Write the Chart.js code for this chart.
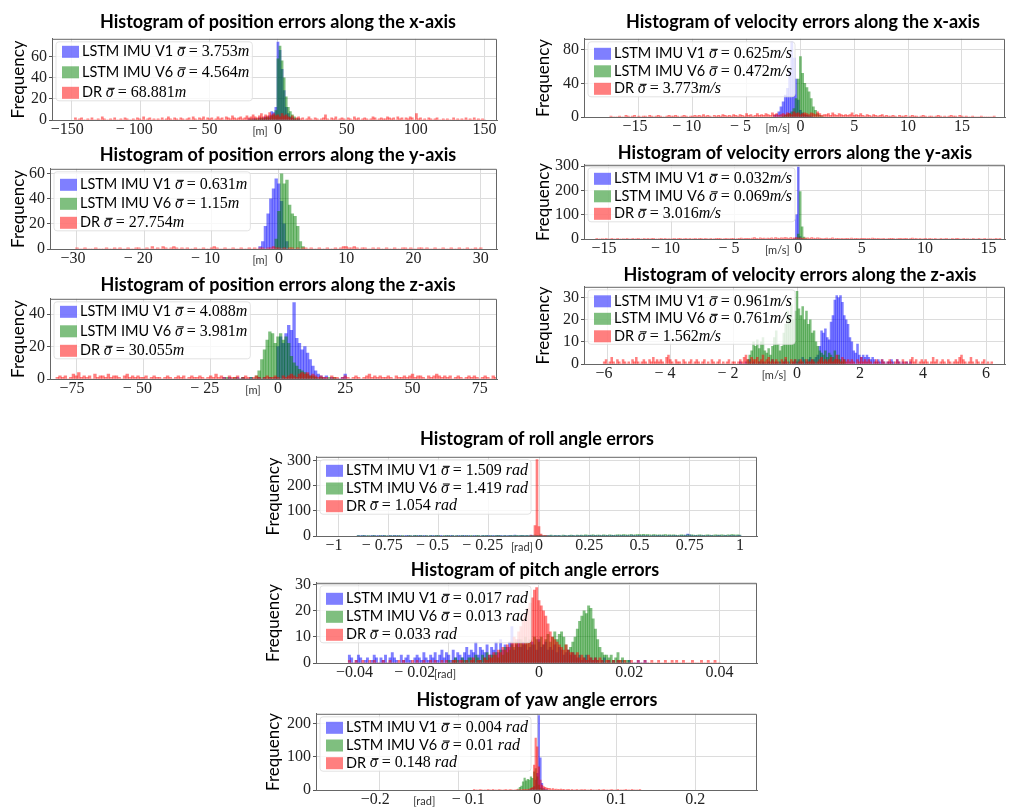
<!DOCTYPE html>
<html>
<head>
<meta charset="utf-8">
<script src="https://cdn.jsdelivr.net/npm/chart.js@4.4.1/dist/chart.umd.min.js"></script>
<style>
  html, body { margin: 0; padding: 0; background: #fff; width: 1010px; height: 809px; overflow: hidden; position: relative; }
  canvas { position: absolute; }
</style>
</head>
<body>
<script>
// shared
var seriesNames = ['LSTM IMU V1', 'LSTM IMU V6', 'DR'];
var seriesColors = ['rgba(0,0,255,0.5)', 'rgba(0,128,0,0.5)', 'rgba(255,0,0,0.5)'];

// position x
var posXBin = 1.5;
var posXTicks = [-150, -100, -50, 0, 50, 100, 150];
var posXTickLabels = ['−150', '− 100', '− 50', '0', '50', '100', '150'];
var posXYTicks = [0, 20, 40, 60];
var posXSigma = ['3.753', '4.564', '68.881'];
var posXV1Start = -21;
var posXV1 = [1,0,1,1,0,2,1,2,3,2,4,8,7,12,74,66,48,28,12,6,3,2,1,0,1];
var posXV6Start = -21;
var posXV6 = [0,1,0,1,1,1,2,1,2,3,2,4,5,9,58,70,56,40,22,12,8,5,3,1,1];
var posXDRStart = -147;
var posXDR = [2,0,1,2,0,0,1,0,2,0, 0,1,0,3,1,0,0,1,0,2, 0,0,1,0,2,1,0,0,1,0, 2,1,0,3,0,1,2,0,1,0,
  1,0,2,0,1,3,1,0,2,1, 0,2,1,0,1,2,0,3,1,0, 2,1,3,0,2,1,2,0,1,3, 1,2,0,3,2,1,4,2,1,2,
  3,1,2,4,2,3,5,3,2,4, 6,3,5,4,7,5,6,4,5,3, 6,4,5,3,2,4,1,2,3,1, 2,0,1,3,1,0,2,1,0,1,
  2,5,1,0,2,1,3,0,1,2, 1,0,2,1,0,3,1,2,0,1, 2,1,0,1,3,2,0,1,2,1, 1,3,2,1,2,0,3,1,2,0,
  2,1,3,2,0,6,1,2,0,1, 0,2,1,0,1,2,0,0,1,0, 1,0,0,2,0,1,0,1,0,2, 0,1,0,2,0,1,0,1,0];

// position y
var posYBin = 0.4;
var posYTicks = [-30, -20, -10, 0, 10, 20, 30];
var posYTickLabels = ['−30', '− 20', '− 10', '0', '10', '20', '30'];
var posYYTicks = [0, 20, 40, 60];
var posYSigma = ['0.631', '1.15', '27.754'];
var posYV1Start = -2.8;
var posYV1 = [2,6,18,28,40,48,56,52,38,20,6];
var posYV6Start = -0.4;
var posYV6 = [8,30,60,52,55,35,28,26,18,6,2];
var posYDRStart = -30;
var posYDR = [1,0,0,1,0,0,0,1,0,0, 0,1,0,0,1,0,1,0,0,1, 0,0,1,1,0,0,1,0,2,0, 1,0,2,1,0,1,2,1,0,1,
  0,1,0,0,1,0,0,1,0,0, 1,2,1,0,0,1,0,0,1,0, 0,1,0,0,1,0,1,0,1,1, 0,1,1,2,1,1,0,1,0,1,
  1,0,1,0,1,1,0,1,0,0, 1,0,0,1,0,0,1,0,1,2, 2,1,1,2,1,0,1,1,0,0, 1,0,1,0,0,1,0,0,1,0,
  0,1,1,0,1,0,0,1,1,0, 1,0,0,1,0,0,1,0,0,1, 0,0,1,0,0,1,0,0,1,0, 1];

// position z
var posZBin = 1;
var posZTicks = [-75, -50, -25, 0, 25, 50, 75];
var posZTickLabels = ['−75', '− 50', '− 25', '0', '25', '50', '75'];
var posZYTicks = [0, 10, 20, 30, 40];
var posZSigma = ['4.088', '3.981', '30.055'];
var posZV1Start = -20;
var posZV1 = [1,0,1,0,0,1,0,1,0,0, 1,0,0,1,0,1,0,1,0,1, 20,26,22,28,33,30,47,25,22,18,
  20,16,12,8,5,3,2,1,2,0, 1,0,0,0,1,3];
var posZV6Start = -20;
var posZV6 = [0,1,0,0,1,0,0,1,0,0, 1,0,2,5,12,18,24,29,28,22, 26,28,24,26,22,14,10,8,6,5,
  4,3,2,2,1,0,1,0,0,1, 0,1,0];
var posZDRStart = -82;
var posZDR = [1,2,1,2,0,1,3,2,4,1, 2,1,2,0,3,1,2,2,1,3, 1,2,2,1,0,2,3,1,2,1, 2,1,1,2,0,1,2,1,1,0,
  1,2,1,0,1,2,1,2,0,1, 2,1,1,2,1,0,1,2,1,3, 1,2,1,0,2,1,1,2,0,1, 2,1,0,1,2,1,0,1,2,1,
  1,2,1,0,2,1,2,3,2,1, 3,4,3,4,2,3,2,1,2,1, 1,0,2,1,1,0,1,2,1,0, 1,2,1,0,1,2,3,1,2,1,
  2,1,1,2,1,0,2,1,1,2, 1,2,3,1,2,2,1,0,2,1, 2,3,2,1,2,1,2,0,1,2, 1,0,1,2,1,2,1,0,1,2,
  1,0,2,1];

// velocity x
var velXBin = 0.2;
var velXTicks = [-15, -10, -5, 0, 5, 10, 15];
var velXTickLabels = ['−15', '− 10', '− 5', '0', '5', '10', '15'];
var velXYTicks = [0, 20, 40, 60, 80];
var velXSigma = ['0.625', '0.472', '3.773'];
var velXV1Start = -2.4;
var velXV1 = [2,3,6,12,18,26,34,55,89,70,45,20,8,5,3,2,1,1];
var velXV6Start = -1.6;
var velXV6 = [1,2,3,4,6,10,22,45,72,52,40,35,30,22,12,8,4,2,1];
var velXDRStart = -17.6;
var velXDR = [1,0,0,0,1,0,0,2,1,0, 1,2,0,1,0,1,1,0,2,1, 0,1,2,1,0,0,1,2,1,1, 2,1,0,1,2,1,0,1,1,2,
  1,2,1,3,1,2,1,0,2,1, 2,1,3,2,1,2,1,3,2,1, 3,2,1,4,2,3,1,2,4,2, 3,2,4,3,2,5,3,4,2,3,
  4,3,5,4,3,6,4,5,3,4, 5,4,3,5,4,3,6,4,2,3, 3,4,2,5,3,2,4,3,2,3, 2,3,5,2,3,2,4,2,1,3,
  2,1,3,2,1,2,3,1,2,1, 1,2,1,0,2,1,1,2,0,1, 2,1,1,0,1,2,1,0,1,1, 0,1,2,1,0,1,0,1,2,1,
  1,0,2,1,0,1,0,0,1,0, 0,0,1,0,0,0,0,0,1];

// velocity y
var velYBin = 0.15;
var velYTicks = [-15, -10, -5, 0, 5, 10, 15];
var velYTickLabels = ['−15', '− 10', '− 5', '0', '5', '10', '15'];
var velYYTicks = [0, 100, 200, 300];
var velYSigma = ['0.032', '0.069', '3.016'];
var velYV1Start = -0.3;
var velYV1 = [3,99,296,10,2];
var velYV6Start = -0.15;
var velYV6 = [4,20,195,50,8,2];
var velYDRStart = -15.9;
var velYDR = [1,0,0,2,0,1,0,0,1,0, 0,1,0,0,2,0,1,0,0,1, 0,2,1,0,0,1,0,3,0,1, 1,0,0,2,1,0,1,0,2,0,
  2,1,0,3,1,0,2,1,0,1, 0,2,1,0,1,3,0,1,2,0, 1,0,2,1,3,1,0,2,1,2, 2,1,3,0,2,1,4,2,1,3,
  3,2,4,6,3,2,5,3,4,2, 4,3,5,2,6,4,3,5,4,6, 5,3,6,4,5,6,4,5,3,4, 4,5,3,6,4,3,5,4,3,2,
  3,4,2,3,5,2,3,1,2,3, 2,3,1,2,4,2,1,3,2,1, 1,3,2,1,2,4,1,2,1,2, 2,1,0,2,1,3,1,0,2,1,
  1,2,1,3,0,1,4,2,1,0, 1,0,2,1,0,1,2,0,1,0, 0,1,0,2,1,0,0,1,0,1, 1,0,0,1,0,2,0,0,1,0,
  0,1,0,0,1,0,0,2,0,0, 1,0,1];

// velocity z
var velZBin = 0.06;
var velZTicks = [-6, -4, -2, 0, 2, 4, 6];
var velZTickLabels = ['−6', '− 4', '− 2', '0', '2', '4', '6'];
var velZYTicks = [0, 10, 20, 30];
var velZSigma = ['0.961', '0.761', '1.562'];
var velZV1Start = -1.8;
var velZV1 = [1,0,0,1,0,2,0,1,0,0, 1,0,1,0,0,1,0,2,0,1, 0,1,0,1,2,0,1,0,1,2, 1,2,1,3,2,1,2,3,2,2,
  3,4,8,15,14,16,12,11,19,22, 29,31,30,31,28,22,20,18,12,10, 6,5,9,4,3,4,3,4,3,2,
  3,2,1,2,1,2,1,0,1,1, 2,1,0,2,1,0,1,0,1,0, 1];
var velZV6Start = -1.56;
var velZV6 = [2,4,6,10,8,11,7,10,12,6, 5,7,4,8,12,15,9,6,8,14, 18,24,22,27,20,24,33,25,22,26,
  20,24,18,20,14,15,10,8,6,5, 4,6,3,5,4,3,6,2,4,2, 1,2];
var velZDRStart = -6.12;
var velZDR = [1,2,0,1,3,1,0,2,1,0, 2,1,0,1,0,2,1,3,1,0, 1,2,1,0,2,1,3,1,2,1, 2,1,0,3,4,2,1,0,2,1,
  1,0,2,1,0,1,2,0,1,2, 1,0,1,2,0,1,0,2,1,0, 1,2,0,1,0,1,2,0,1,1, 0,1,2,1,3,4,2,1,3,2,
  2,3,1,2,4,1,2,3,1,2, 1,2,1,0,2,1,3,1,0,2, 1,2,0,1,2,1,0,2,1,1, 2,1,0,1,2,3,1,2,1,2,
  3,1,2,4,2,1,3,2,1,2, 1,2,1,0,2,1,3,1,2,1, 2,1,0,1,2,1,0,2,1,0, 1,2,1,0,1,2,1,0,2,1,
  1,0,2,3,1,2,0,1,2,1, 2,1,0,1,3,1,2,0,1,2, 1,0,2,1,0,1,2,1,3,4, 2,1,0,1,3,1,0,2,1,0,
  1,2,0,1,0,1];

// roll
var rollBin = 0.01;
var rollTicks = [-1, -0.75, -0.5, -0.25, 0, 0.25, 0.5, 0.75, 1];
var rollTickLabels = ['−1', '− 0.75', '− 0.5', '− 0.25', '0', '0.25', '0.5', '0.75', '1'];
var rollYTicks = [0, 100, 200, 300];
var rollSigma = ['1.509', '1.419', '1.054'];
var rollV1Start = -0.9;
var rollV1 = [3,2,1,3,2,0,2,1,3,2, 1,2,3,1,0,2,1,2,1,3, 2,1,0,2,3,1,2,0,1,2, 1,3,2,1,2,0,1,3,2,1,
  2,1,2,0,1,2,3,1,0,2, 1,2,1,3,2,1,0,2,1,2, 2,0,1,2,1,3,2,1,2,1, 3,1,2,1,2,3,1,2,4,2,
  2,3,1,2,3,2,4,3,2,1, 2,1,2,0,1,2,1,0,1,2, 1,0,2,1,0,1,2,1,0,1, 2,1,0,1,2,1,3,2,1,2,
  1,2,3,2,1,2,1,3,2,1, 2,3,1,2,3,2,4,3,2,3, 3,2,1,2,1,0,2,1,2,1, 1,2,1,0,2,1,2,3,1,2,
  2,3,2,4,8,5,3,2,1,2, 1,2,1,0,1,2,1,0,2,1, 1,0,2,1,0,1,2,1,0,1, 1];
var rollV6Start = -0.9;
var rollV6 = [1,0,2,1,0,1,0,2,1,0, 0,1,0,1,2,0,1,0,1,0, 1,0,1,0,0,2,1,0,1,1, 0,1,2,0,1,0,1,0,2,1,
  1,0,0,1,2,1,0,1,0,1, 0,2,1,0,1,0,1,2,0,1, 1,0,1,2,1,0,1,0,2,1, 1,2,0,1,0,2,1,2,1,3,
  2,1,3,2,1,2,3,2,4,3, 3,4,2,3,2,3,4,2,3,2, 3,2,4,3,2,3,4,3,2,4, 3,4,3,5,4,3,4,5,3,4,
  4,3,5,4,3,5,4,3,4,5, 5,4,6,5,4,5,6,4,5,6, 6,5,7,5,6,5,4,6,5,4, 5,4,5,6,4,5,4,5,4,3,
  4,5,4,3,5,4,5,4,3,4, 5,4,3,4,5,4,3,4,5,4, 4,5,4,3,5,4,6,5,4,5, 4];
var rollDRStart = -0.04;
var rollDR = [1,0,42,305,38,8,2,1,0];

// pitch
var pitchBin = 0.0005;
var pitchTicks = [-0.04, -0.02, 0, 0.02, 0.04];
var pitchTickLabels = ['−0.04', '− 0.02', '0', '0.02', '0.04'];
var pitchYTicks = [0, 10, 20, 30];
var pitchSigma = ['0.017', '0.013', '0.033'];
var pitchV1Start = -0.042;
var pitchV1 = [3,2,0,1,3,2,0,1,2,0, 1,3,2,0,2,1,3,0,2,4, 2,1,0,3,1,2,3,1,0,2, 3,2,1,4,2,1,3,2,4,1,
  3,5,2,4,3,1,5,2,4,3, 2,4,6,3,5,4,8,3,6,5, 4,7,3,6,5,8,4,9,5,7, 6,8,14,5,7,9,6,8,7,5,
  6,8,7,5,9,6,7,8,5,6, 5,7,4,6,5,3,4,5,3,4, 3,2,3,1,2,3,1,2,1,2, 1,0,1,2,0,1,0,1,0,1,
  0,1,0,0,1,0,0,0,1,0, 0,1,0];
var pitchV6Start = -0.02;
var pitchV6 = [1,0,1,2,1,0,2,1,1,2, 2,1,3,2,1,3,2,4,2,3, 3,4,2,5,3,6,4,5,7,6, 8,6,9,7,10,8,9,7,10,9,
  8,10,7,9,11,8,10,12,9,11, 12,10,7,5,6,8,10,13,16,18, 20,19,22,21,17,13,9,6,4,3, 3,2,3,1,2,4,1,2,1,1,
  1];
var pitchDRStart = -0.042;
var pitchDR = [1,0,0,1,0,0,1,0,0,1, 0,1,0,0,0,1,0,0,1,0, 0,0,1,0,1,0,0,0,1,0, 1,0,0,1,0,0,1,0,1,0,
  0,1,0,1,0,0,1,1,0,1, 1,0,1,0,1,2,0,1,1,0, 2,1,3,2,4,3,5,4,6,5, 7,6,8,10,9,12,14,17,19,21,
  23,25,28,29,24,22,20,18,15,12, 10,9,8,7,6,5,7,5,4,4, 3,4,2,3,2,1,3,2,1,2, 1,2,1,0,1,1,0,1,0,1,
  1,0,1,0,0,1,0,0,1,0, 0,1,0,0,1,0,0,1,0,0, 1,0,0,1,0,1,0,0,1,0, 0,0,1,0,0,0,1,0,0,1,
  0,0,1,0,0];

// yaw
var yawBin = 0.002;
var yawTicks = [-0.2, -0.1, 0, 0.1, 0.2];
var yawTickLabels = ['−0.2', '− 0.1', '0', '0.1', '0.2'];
var yawYTicks = [0, 50, 100, 150, 200];
var yawSigma = ['0.004', '0.01', '0.148'];
var yawV1Start = -0.01;
var yawV1 = [2,3,5,10,30,50,225,97,20,5,2,1];
var yawV6Start = -0.024;
var yawV6 = [3,8,12,25,36,28,32,30,40,35,55,65,40,15,6,3,1];
var yawDRStart = -0.08;
var yawDR = [1,0,0,0,1,0,0,0,0,1, 0,0,1,0,0,0,1,0,0,0, 1,0,0,1,0,0,0,1,0,1, 0,1,2,1,2,3,5,8,75,157,
  130,70,30,15,10,8,6,5,4,3, 4,2,3,1,2,3,1,2,0,1, 2,0,1,0,0,1,0,0,1,0, 1,0,0,0,1,0,0,0,0,1,
  0,0,1,0,0,0,0,1,0,0, 0,1,0,0,0,0,1,0,0,0, 1,0,0,0,0,1];

var panels = [
  { title: 'Histogram of position errors along the x-axis', bin: posXBin, xTicks: posXTicks, xLabels: posXTickLabels,
    yTicks: posXYTicks, sigma: posXSigma, unit: 'm', tag: '[m]', tagAt: -13,
    series: [[posXV1Start, posXV1], [posXV6Start, posXV6], [posXDRStart, posXDR]],
    xMin: -164, xMax: 159, yMax: 77,
    box: { L: 52, T: 39, R: 497, B: 120, tx: 278, ty: 22, cl: 6 }, legend: { first: 13, gap: 20.5 } },
  { title: 'Histogram of position errors along the y-axis', bin: posYBin, xTicks: posYTicks, xLabels: posYTickLabels,
    yTicks: posYYTicks, sigma: posYSigma, unit: 'm', tag: '[m]', tagAt: -2.8,
    series: [[posYV1Start, posYV1], [posYV6Start, posYV6], [posYDRStart, posYDR]],
    xMin: -34, xMax: 32.4, yMax: 64,
    box: { L: 50, T: 169, R: 497, B: 249, tx: 278, ty: 155, cl: 6 }, legend: { first: 16, gap: 19 } },
  { title: 'Histogram of position errors along the z-axis', bin: posZBin, xTicks: posZTicks, xLabels: posZTickLabels,
    yTicks: posZYTicks, sigma: posZSigma, unit: 'm', tag: '[m]', tagAt: -9.3,
    series: [[posZV1Start, posZV1], [posZV6Start, posZV6], [posZDRStart, posZDR]],
    xMin: -84.7, xMax: 81.4, yMax: 49.4,
    box: { L: 50, T: 299, R: 497, B: 379, tx: 278, ty: 285, cl: 6 }, legend: { first: 13, gap: 19.5 } },
  { title: 'Histogram of velocity errors along the x-axis', bin: velXBin, xTicks: velXTicks, xLabels: velXTickLabels,
    yTicks: velXYTicks, sigma: velXSigma, unit: 'm/s', tag: '[m/s]', tagAt: -2.1,
    series: [[velXV1Start, velXV1], [velXV6Start, velXV6], [velXDRStart, velXDR]],
    xMin: -20.1, xMax: 19.0, yMax: 93,
    box: { L: 584, T: 39, R: 1005, B: 117, tx: 803, ty: 22, cl: 531 }, legend: { first: 15, gap: 17.5 } },
  { title: 'Histogram of velocity errors along the y-axis', bin: velYBin, xTicks: velYTicks, xLabels: velYTickLabels,
    yTicks: velYYTicks, sigma: velYSigma, unit: 'm/s', tag: '[m/s]', tagAt: -1.66,
    series: [[velYV1Start, velYV1], [velYV6Start, velYV6], [velYDRStart, velYDR]],
    xMin: -16.9, xMax: 16.3, yMax: 305,
    box: { L: 584, T: 165, R: 1005, B: 239, tx: 795, ty: 153, cl: 531 }, legend: { first: 14, gap: 17.5 } },
  { title: 'Histogram of velocity errors along the z-axis', bin: velZBin, xTicks: velZTicks, xLabels: velZTickLabels,
    yTicks: velZYTicks, sigma: velZSigma, unit: 'm/s', tag: '[m/s]', tagAt: -0.73,
    series: [[velZV1Start, velZV1], [velZV6Start, velZV6], [velZDRStart, velZDR]],
    xMin: -6.76, xMax: 6.6, yMax: 35,
    box: { L: 584, T: 287, R: 1005, B: 364, tx: 800, ty: 275, cl: 531 }, legend: { first: 14.5, gap: 17.5 } },
  { title: 'Histogram of roll angle errors', bin: rollBin, xTicks: rollTicks, xLabels: rollTickLabels,
    yTicks: rollYTicks, sigma: rollSigma, unit: ' rad', tag: '[rad]', tagAt: -0.085,
    series: [[rollV1Start, rollV1], [rollV6Start, rollV6], [rollDRStart, rollDR]],
    xMin: -1.11, xMax: 1.085, yMax: 316,
    box: { L: 316, T: 457, R: 757, B: 536, tx: 537, ty: 439, cl: 261 }, legend: { first: 14, gap: 17.7 } },
  { title: 'Histogram of pitch angle errors', bin: pitchBin, xTicks: pitchTicks, xLabels: pitchTickLabels,
    yTicks: pitchYTicks, sigma: pitchSigma, unit: ' rad', tag: '[rad]', tagAt: -0.0208, xNudge: [0, -28, 0, 0, 0],
    series: [[pitchV1Start, pitchV1], [pitchV6Start, pitchV6], [pitchDRStart, pitchDR]],
    xMin: -0.0494, xMax: 0.0483, yMax: 30.8,
    box: { L: 316, T: 583, R: 757, B: 663, tx: 535, ty: 570, cl: 261 }, legend: { first: 16, gap: 18 } },
  { title: 'Histogram of yaw angle errors', bin: yawBin, xTicks: yawTicks, xLabels: yawTickLabels,
    yTicks: yawYTicks, sigma: yawSigma, unit: ' rad', tag: '[rad]', tagAt: -0.143, xNudge: [0, 16, 0, 0, 0],
    series: [[yawV1Start, yawV1], [yawV6Start, yawV6], [yawDRStart, yawDR]],
    xMin: -0.28, xMax: 0.278, yMax: 230,
    box: { L: 316, T: 714, R: 757, B: 790, tx: 537, ty: 700, cl: 261 }, legend: { first: 14, gap: 17.7 } }
];

var SERIF = '"Liberation Serif", "DejaVu Serif", serif';
var SANS = 'Lato, "Open Sans", sans-serif';
var TITLE_SIZE = 18;
var TICK_SIZE = 16;

function toPoints(start, bin, counts) {
  return counts.map(function (c, i) {
    return { x: +(start + i * bin).toFixed(6), y: c };
  });
}

// matplotlib centres the digits on the tick and lets the minus hang left;
// pad with spaces so the centred label lands the same way
function tickText(p, v) {
  var i = p.xTicks.indexOf(v);
  var lbl = p.xLabels[i];
  var sp = TICK_SIZE * 0.25;
  var pre = lbl.slice(0, lbl.search(/[0-9]/));
  var preW = pre.replace(/ /g, '').length * TICK_SIZE * 0.564 + (pre.split(' ').length - 1) * sp;
  var nudge = (p.xNudge && p.xNudge[i]) || 0;
  var extra = preW - 2 * nudge;
  var n = Math.round(Math.abs(extra) / sp);
  return extra >= 0 ? lbl + ' '.repeat(n) : ' '.repeat(n) + lbl;
}

// top/right spines, in-axes legend and the small unit tag
function overlay(p) {
  return {
    id: 'overlay',
    afterDraw: function (chart) {
      var ctx = chart.ctx, a = chart.chartArea;
      ctx.save();
      ctx.strokeStyle = '#666';
      ctx.lineWidth = 1;
      ctx.beginPath();
      ctx.moveTo(a.left, a.top + 0.5);
      ctx.lineTo(a.right - 0.5, a.top + 0.5);
      ctx.lineTo(a.right - 0.5, a.bottom);
      ctx.stroke();

      var rows = seriesNames.map(function (n, i) {
        return [
          [n + ' ', '14.5px ' + SANS],
          ['σ', 'italic 16px ' + SERIF, true],
          [' = ' + p.sigma[i], '16px ' + SERIF],
          [p.unit, 'italic 16px ' + SERIF]
        ];
      });
      var maxW = 0;
      rows.forEach(function (r) {
        var w = 0;
        r.forEach(function (s) { ctx.font = s[1]; w += ctx.measureText(s[0]).width; });
        maxW = Math.max(maxW, w);
      });
      var lg = p.legend;
      var bx = a.left + 4, by = a.top + 3;
      var bw = maxW + 29, bh = lg.first + 2 * lg.gap + 5;
      ctx.fillStyle = 'rgba(255,255,255,0.8)';
      ctx.strokeStyle = 'rgba(220,220,220,0.8)';
      ctx.beginPath();
      ctx.roundRect(bx, by, bw, bh, 3);
      ctx.fill();
      ctx.stroke();
      ctx.textBaseline = 'middle';
      ctx.textAlign = 'left';
      rows.forEach(function (r, i) {
        var y = a.top + lg.first + i * lg.gap;
        ctx.fillStyle = seriesColors[i];
        ctx.fillRect(a.left + 10, y - 6, 17, 12);
        var x = a.left + 30;
        ctx.fillStyle = '#000';
        r.forEach(function (s) {
          ctx.font = s[1];
          var w = ctx.measureText(s[0]).width;
          ctx.fillText(s[0], x, y);
          if (s[2]) ctx.fillRect(x + 2, y - 5, w - 1, 1);
          x += w;
        });
      });

      ctx.font = '11px ' + SANS;
      ctx.fillStyle = '#333';
      ctx.textAlign = 'center';
      ctx.fillText(p.tag, chart.scales.x.getPixelForValue(p.tagAt), a.bottom + 11);
      ctx.restore();
    }
  };
}

function makePanel(p) {
  var b = p.box;
  var lh = TITLE_SIZE * 1.2;
  var ct = b.ty - lh / 2;
  var cw = 2 * (b.tx - b.cl);
  var ch = Math.round(b.B - ct + 26);
  var padR = b.cl + cw - b.R;
  var canvas = document.createElement('canvas');
  canvas.width = cw;
  canvas.height = ch;
  canvas.style.left = b.cl + 'px';
  canvas.style.top = ct + 'px';
  document.body.appendChild(canvas);

  var datasets = p.series.map(function (s, i) {
    return {
      label: seriesNames[i],
      data: toPoints(s[0], p.bin, s[1]),
      backgroundColor: seriesColors[i],
      borderWidth: 0,
      grouped: false,
      barPercentage: 1,
      categoryPercentage: 1,
      order: 3 - i
    };
  });

  new Chart(canvas, {
    type: 'bar',
    data: { datasets: datasets },
    options: {
      responsive: false,
      animation: false,
      devicePixelRatio: 1,
      layout: { padding: 0 },
      plugins: {
        legend: { display: false },
        tooltip: { enabled: false },
        title: {
          display: true,
          text: p.title,
          color: '#000',
          font: { family: SANS, size: TITLE_SIZE, weight: 'bold', lineHeight: 1.2 },
          padding: { top: 0, bottom: b.T - ct - lh }
        }
      },
      scales: {
        x: {
          type: 'linear',
          offset: false,
          min: p.xMin,
          max: p.xMax,
          afterBuildTicks: function (s) { s.ticks = p.xTicks.map(function (v) { return { value: v }; }); },
          afterFit: function (s) { s.height = 26; },
          ticks: {
            autoSkip: false,
            maxRotation: 0,
            padding: 0,
            color: '#222',
            font: { family: SERIF, size: TICK_SIZE },
            callback: function (v) { return tickText(p, v); }
          },
          grid: { offset: false, color: '#dcdcdc', drawTicks: false },
          border: { color: '#666' }
        },
        y: {
          min: 0,
          max: p.yMax,
          afterBuildTicks: function (s) { s.ticks = p.yTicks.map(function (v) { return { value: v }; }); },
          afterFit: function (s) { s.width = b.L - b.cl; },
          ticks: {
            padding: 2,
            color: '#222',
            font: { family: SERIF, size: TICK_SIZE },
            callback: function (v) { return String(v); }
          },
          grid: { color: '#dcdcdc', tickColor: '#555', tickLength: 3 },
          border: { color: '#666' },
          title: {
            display: true,
            text: 'Frequency',
            color: '#000',
            font: { family: SANS, size: 17, lineHeight: 1.2 },
            padding: { top: 2, bottom: 0 }
          }
        },
        pad: {
          position: 'right',
          afterFit: function (s) { s.width = padR; },
          ticks: { display: false },
          grid: { display: false },
          border: { display: false }
        }
      }
    },
    plugins: [overlay(p)]
  });
}

panels.forEach(makePanel);
</script>
</body>
</html>
